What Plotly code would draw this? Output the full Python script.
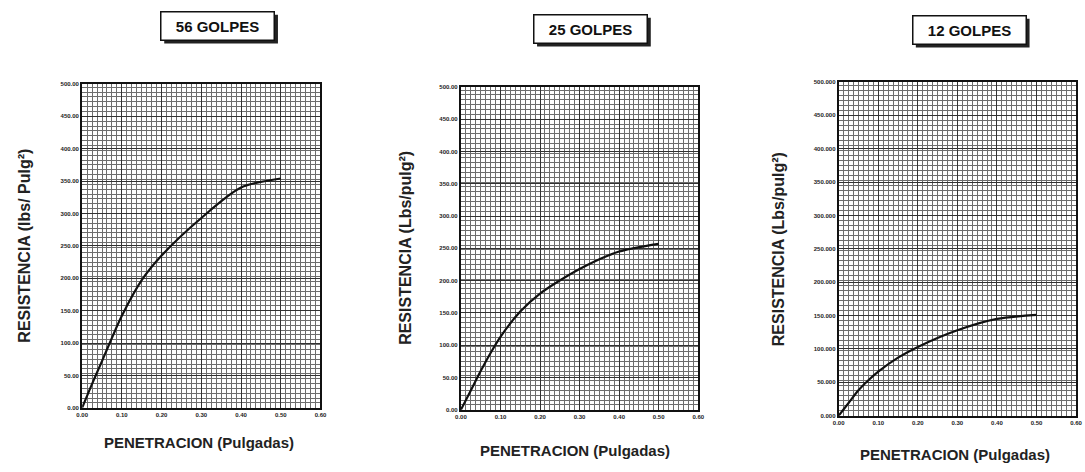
import plotly.graph_objects as go

# ---- data ----
penetracion = [0.0, 0.025, 0.05, 0.075, 0.10, 0.15, 0.20, 0.30, 0.40, 0.50]
res_56 = [0, 37, 72, 108, 142, 197, 235, 293, 340, 354]
res_25 = [0, 30, 60, 88, 113, 152, 180, 218, 245, 257]
res_12 = [0, 19, 38, 53, 66, 87, 103, 128, 145, 151]

titles = ["56 GOLPES", "25 GOLPES", "12 GOLPES"]
y_titles = ["RESISTENCIA (lbs/ Pulg²)", "RESISTENCIA (Lbs/pulg²)", "RESISTENCIA (Lbs/pulg²)"]
x_title = "PENETRACION (Pulgadas)"
x_ticks = [0.0, 0.1, 0.2, 0.3, 0.4, 0.5, 0.6]
y_ticks = [0, 50, 100, 150, 200, 250, 300, 350, 400, 450, 500]
x_labels = [f"{v:.2f}" for v in x_ticks]
y_labels_2 = [f"{v:.2f}" for v in y_ticks]
y_labels_3 = [f"{v:.3f}" for v in y_ticks]

W, H = 1085, 472
# panel pixel boxes (left, right, top, bottom)
boxes = [(77, 318, 82, 410), (460, 700, 85, 412), (842, 1082, 80, 418)]
series = [res_56, res_25, res_12]
ylabels = [y_labels_2, y_labels_2, y_labels_3]
title_pos = [(214, 23), (591, 26), (974, 27)]
ytitle_x = [19, 404, 781]
xtitle_pos = [(195, 445), (575, 453), (960, 457)]

fig = go.Figure()
FONT = "Liberation Sans, Arial, sans-serif"

for i in range(3):
    l, r, t, b = boxes[i]
    sfx = "" if i == 0 else str(i + 1)
    fig.add_trace(go.Scatter(
        x=penetracion, y=series[i], mode="lines",
        line=dict(color="#111111", width=2.2, shape="spline", smoothing=0.8),
        xaxis="x" + sfx, yaxis="y" + sfx, showlegend=False, hoverinfo="x+y"))
    axcommon = dict(
        showline=True, linecolor="#111111", linewidth=2, mirror=True,
        showgrid=True, gridcolor="#333333", gridwidth=1, zeroline=False,
        ticks="", tickfont=dict(family=FONT, size=6, color="#222222", weight="bold"),
    )
    fig.layout["xaxis" + sfx] = dict(
        axcommon, domain=[l / W, r / W], anchor="y" + sfx, range=[0, 0.6],
        tickmode="array", tickvals=x_ticks, ticktext=x_labels,
        minor=dict(dtick=0.0125, tick0=0, showgrid=True, gridcolor="#6e6e6e", gridwidth=1),
    )
    fig.layout["yaxis" + sfx] = dict(
        axcommon, domain=[1 - b / H, 1 - t / H], anchor="x" + sfx, range=[0, 500],
        tickmode="array", tickvals=y_ticks, ticktext=ylabels[i],
        minor=dict(dtick=7.5, tick0=0, showgrid=True, gridcolor="#6e6e6e", gridwidth=1),
    )
    # title box with shadow
    tx, ty = title_pos[i]
    fig.add_shape(type="rect", xref="paper", yref="paper",
                  x0=(tx - 54) / W, x1=(tx + 61) / W, y0=1 - (ty + 18) / H, y1=1 - (ty - 11) / H,
                  fillcolor="#222222", line=dict(width=0), layer="above")
    fig.add_annotation(x=tx / W, y=1 - ty / H, xref="paper", yref="paper",
                       xanchor="center", yanchor="middle",
                       text="<b>" + titles[i] + "</b>", showarrow=False,
                       font=dict(family=FONT, size=15, color="#111111"),
                       bgcolor="white", bordercolor="#111111", borderwidth=1.5,
                       borderpad=3, width=106, height=21)
    # axis titles
    fig.add_annotation(x=ytitle_x[i] / W, y=1 - ((t + b) / 2) / H, xref="paper", yref="paper",
                       xanchor="center", yanchor="middle",
                       text="<b>" + y_titles[i] + "</b>", showarrow=False, textangle=-90,
                       font=dict(family=FONT, size=16, color="#222222"))
    xx, xy = xtitle_pos[i]
    fig.add_annotation(x=xx / W, y=1 - xy / H, xref="paper", yref="paper",
                       xanchor="center", yanchor="middle",
                       text="<b>" + x_title + "</b>", showarrow=False,
                       font=dict(family=FONT, size=15, color="#222222"))

fig.update_layout(
    width=W, height=H, margin=dict(l=0, r=0, t=0, b=0),
    paper_bgcolor="white", plot_bgcolor="white",
)
fig.write_html("out.html")
